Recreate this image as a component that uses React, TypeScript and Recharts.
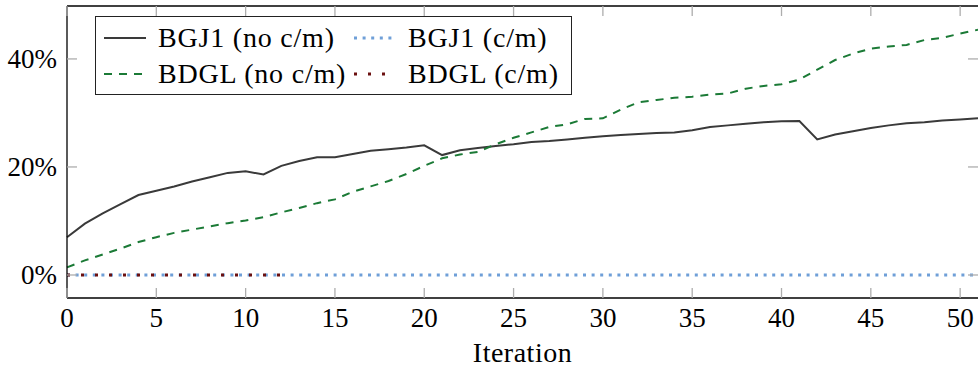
import { Legend, Line, LineChart, ReferenceLine, XAxis, YAxis } from 'recharts';

const iterations = [
  0, 1, 2, 3, 4, 5, 6, 7, 8, 9, 10, 11, 12, 13, 14, 15, 16, 17, 18, 19, 20, 21, 22, 23, 24, 25,
  26, 27, 28, 29, 30, 31, 32, 33, 34, 35, 36, 37, 38, 39, 40, 41, 42, 43, 44, 45, 46, 47, 48, 49, 50, 51,
];

// success rate in %
const bgj1NoCm = [
  7.0, 9.5, 11.4, 13.1, 14.8, 15.6, 16.4, 17.3, 18.1, 18.9, 19.2, 18.6, 20.2, 21.1, 21.8, 21.8,
  22.4, 23.0, 23.3, 23.6, 24.0, 22.2, 23.1, 23.5, 23.9, 24.2, 24.6, 24.8, 25.1, 25.4, 25.7, 25.9,
  26.1, 26.3, 26.4, 26.8, 27.4, 27.7, 28.0, 28.3, 28.45, 28.5, 25.1, 26.0, 26.6, 27.2, 27.7, 28.1,
  28.3, 28.6, 28.8, 29.0,
];
const bgj1Cm = [
  0, 0, 0, 0, 0, 0, 0, 0, 0, 0, 0, 0, 0, 0, 0, 0, 0, 0, 0, 0, 0, 0, 0, 0, 0, 0,
  0, 0, 0, 0, 0, 0, 0, 0, 0, 0, 0, 0, 0, 0, 0, 0, 0, 0, 0, 0, 0, 0, 0, 0, 0, 0,
];
const bdglNoCm = [
  1.4, 2.7, 3.8, 4.9, 6.1, 7.0, 7.8, 8.4, 9.0, 9.6, 10.1, 10.7, 11.6, 12.4, 13.3, 14.0,
  15.4, 16.4, 17.4, 18.7, 20.2, 21.6, 22.3, 22.8, 24.2, 25.4, 26.4, 27.4, 27.9, 28.9, 29.0, 30.6,
  32.0, 32.4, 32.8, 33.0, 33.4, 33.6, 34.5, 35.0, 35.3, 36.2, 38.0, 39.8, 41.0, 41.9, 42.3, 42.6,
  43.5, 43.9, 44.7, 45.4,
];
const bdglCm = [0, 0, 0, 0, 0, 0, 0, 0, 0, 0, 0, 0, 0];

const xTicks = [0, 5, 10, 15, 20, 25, 30, 35, 40, 45, 50];
const yTicks = [0, 20, 40];
const legendOrder = ['bgj1NoCm', 'bgj1Cm', 'bdglNoCm', 'bdglCm'];

const data = iterations.map((it, i) => ({
  iteration: it,
  bgj1NoCm: bgj1NoCm[i],
  bgj1Cm: bgj1Cm[i] ?? null,
  bdglNoCm: bdglNoCm[i],
  bdglCm: bdglCm[i] ?? null,
}));

const FONT = '"Liberation Serif", "Times New Roman", serif';
const FS = 27;
const PLOT_W = 911;
const PLOT_H = 292;
const TICK = 10;
const TICK_COLOR = '#adadad';

function XTick({ x, y, payload }: any) {
  return (
    <g>
      <line x1={x} x2={x} y1={y} y2={y - TICK} stroke={TICK_COLOR} strokeWidth={1.3} />
      <line x1={x} x2={x} y1={y - PLOT_H} y2={y - PLOT_H + TICK} stroke={TICK_COLOR} strokeWidth={1.3} />
      <text x={x} y={y + 20} textAnchor="middle" dominantBaseline="central" fontFamily={FONT} fontSize={FS} fill="#000">
        {payload.value}
      </text>
    </g>
  );
}

function YTick({ x, y, payload }: any) {
  return (
    <g>
      <line x1={x} x2={x + TICK} y1={y} y2={y} stroke={TICK_COLOR} strokeWidth={1.3} />
      <line x1={x + PLOT_W - TICK} x2={x + PLOT_W} y1={y} y2={y} stroke={TICK_COLOR} strokeWidth={1.3} />
      <text x={x - 10} y={y} textAnchor="end" dominantBaseline="central" fontFamily={FONT} fontSize={FS} fill="#000">
        {payload.value + '%'}
      </text>
    </g>
  );
}

function LegendBox({ payload }: any) {
  const items = [...(payload || [])].sort(
    (a: any, b: any) => legendOrder.indexOf(a.dataKey) - legendOrder.indexOf(b.dataKey)
  );
  return (
    <div
      style={{
        width: 477,
        height: 79,
        boxSizing: 'border-box',
        border: '1.3px solid #222',
        background: '#fff',
        display: 'grid',
        gridTemplateColumns: '250px 220px',
        gridAutoRows: '36px',
        padding: '3px 0 0 8px',
        fontFamily: FONT,
        fontSize: 28,
        letterSpacing: 0.8,
        color: '#000',
      }}
    >
      {items.map((entry: any) => (
        <div key={entry.value} style={{ display: 'flex', alignItems: 'center', height: 36, whiteSpace: 'nowrap' }}>
          <svg width={42} height={12} style={{ marginRight: 12 }}>
            <line
              x1={0}
              x2={42}
              y1={6}
              y2={6}
              stroke={entry.color}
              strokeWidth={entry.payload?.strokeWidth ?? 2}
              strokeDasharray={entry.payload?.strokeDasharray}
            />
          </svg>
          <span>{entry.value}</span>
        </div>
      ))}
    </div>
  );
}

export default function App() {
  return (
    <div style={{ position: 'absolute', left: 0, top: 0, width: 978, height: 367, background: '#fff' }}>
      <LineChart width={978} height={367} data={data} margin={{ top: 6, right: 0, bottom: 0, left: 0 }}>
        <XAxis
          dataKey="iteration"
          type="number"
          domain={[0, 51]}
          ticks={xTicks}
          interval={0}
          height={69}
          tickSize={0}
          tickMargin={0}
          tickLine={false}
          tick={<XTick />}
          axisLine={{ stroke: '#000', strokeWidth: 1.3 }}
          label={{
            value: 'Iteration',
            position: 'insideBottom',
            offset: 5,
            fontFamily: FONT,
            fontSize: 28,
            letterSpacing: 0.5,
            fill: '#000',
          }}
        />
        <YAxis
          type="number"
          domain={[-4.26, 49.8]}
          ticks={yTicks}
          interval={0}
          width={67}
          tickSize={0}
          tickMargin={0}
          tickLine={false}
          tick={<YTick />}
          axisLine={{ stroke: '#000', strokeWidth: 1.3 }}
          allowDataOverflow
        />
        <ReferenceLine y={49.8} stroke="#000" strokeWidth={1.3} />
        <Line
          dataKey="bgj1NoCm"
          name="BGJ1 (no c/m)"
          stroke="#3a3a3a"
          strokeWidth={2}
          dot={false}
          isAnimationActive={false}
        />
        <Line
          dataKey="bgj1Cm"
          name="BGJ1 (c/m)"
          stroke="#6f9fd8"
          strokeWidth={3}
          strokeDasharray="3 5.6"
          dot={false}
          isAnimationActive={false}
        />
        <Line
          dataKey="bdglNoCm"
          name="BDGL (no c/m)"
          stroke="#1b7a36"
          strokeWidth={2}
          strokeDasharray="8 7"
          dot={false}
          isAnimationActive={false}
        />
        <Line
          dataKey="bdglCm"
          name="BDGL (c/m)"
          stroke="#6b1010"
          strokeWidth={3}
          strokeDasharray="3 11"
          dot={false}
          isAnimationActive={false}
        />
        <Legend
          layout="horizontal"
          verticalAlign="middle"
          align="center"
          wrapperStyle={{ position: 'absolute', left: 95, top: 16, width: 477, height: 79 }}
          content={<LegendBox />}
        />
      </LineChart>
    </div>
  );
}
